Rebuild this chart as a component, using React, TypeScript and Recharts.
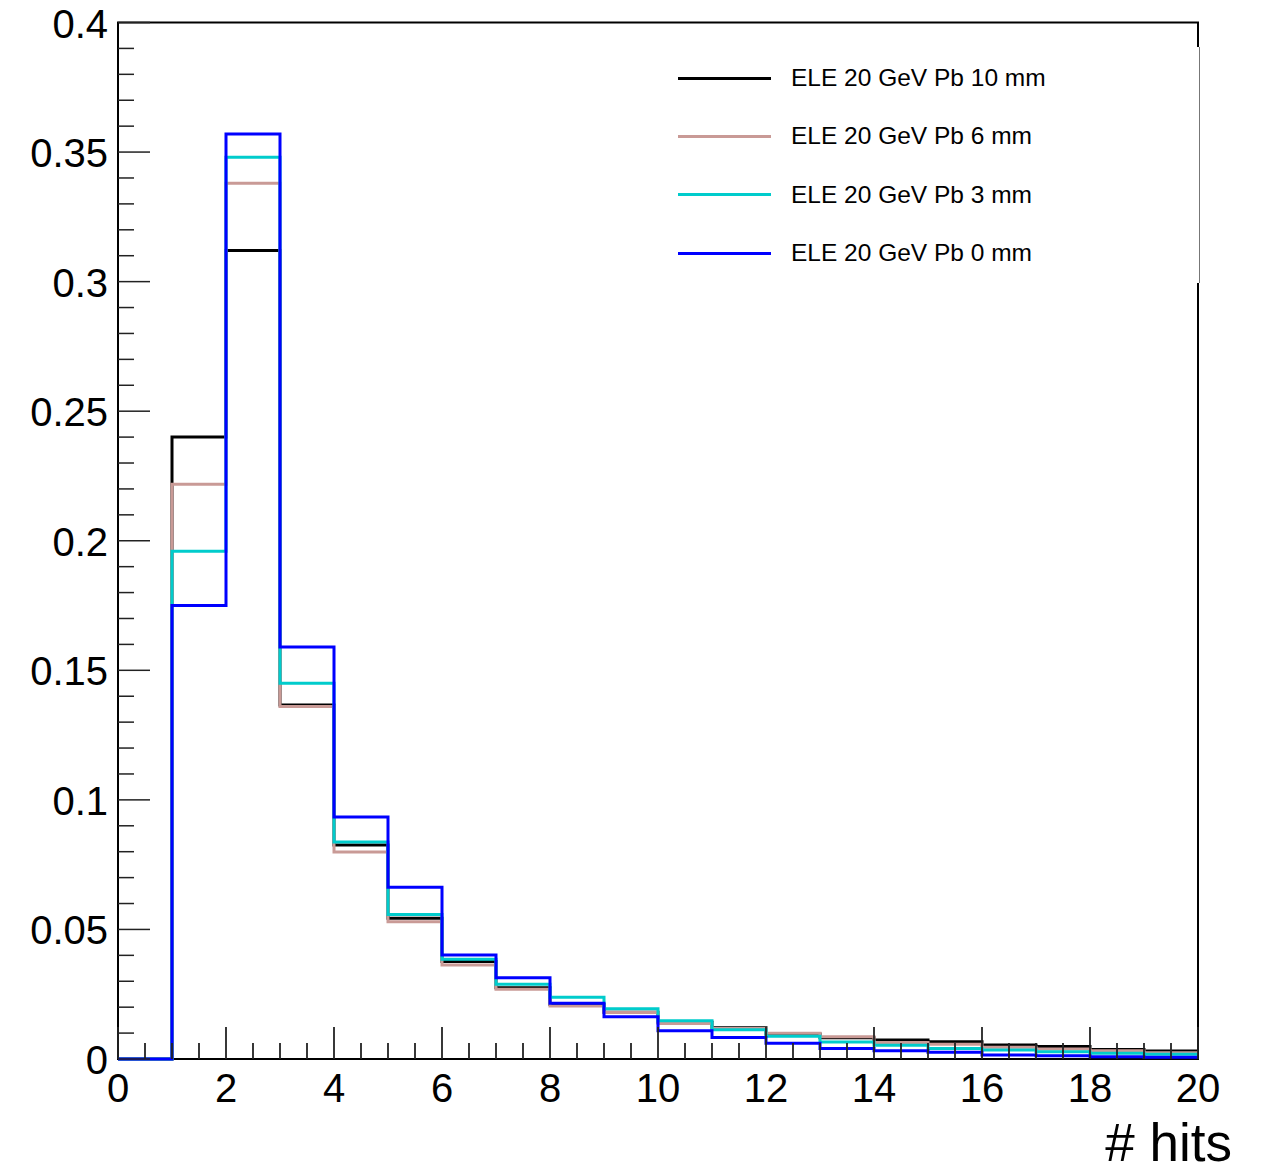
import React from 'react';
import { LineChart, Line, XAxis, YAxis, ReferenceArea, Legend } from 'recharts';

// bin edges 0..20, one value per bin
const binEdges = [0, 1, 2, 3, 4, 5, 6, 7, 8, 9, 10, 11, 12, 13, 14, 15, 16, 17, 18, 19, 20];

const pb10mm = [0, 0.240, 0.312, 0.1366, 0.0826, 0.0543, 0.0376, 0.0275, 0.0210, 0.0180, 0.0142, 0.0121, 0.0096, 0.0082, 0.0073, 0.0067, 0.0054, 0.0048, 0.0037, 0.0031];
const pb6mm = [0, 0.2218, 0.338, 0.136, 0.0799, 0.0530, 0.0363, 0.0269, 0.0205, 0.0179, 0.0137, 0.0118, 0.0099, 0.0086, 0.0064, 0.0057, 0.0045, 0.0039, 0.0032, 0.0024];
const pb3mm = [0, 0.1959, 0.348, 0.145, 0.0837, 0.0558, 0.0385, 0.0288, 0.0238, 0.0194, 0.0148, 0.0113, 0.0088, 0.0066, 0.0053, 0.0041, 0.0035, 0.0028, 0.0022, 0.0018];
const pb0mm = [0, 0.1750, 0.357, 0.159, 0.0934, 0.0663, 0.0401, 0.0314, 0.0215, 0.0163, 0.0109, 0.0083, 0.0061, 0.0041, 0.0032, 0.0026, 0.0015, 0.0013, 0.0009, 0.0007];

const series = [
  { key: 'pb10', name: 'ELE 20 GeV Pb 10 mm', color: '#000000', values: pb10mm },
  { key: 'pb6', name: 'ELE 20 GeV Pb 6 mm', color: '#c99a96', values: pb6mm },
  { key: 'pb3', name: 'ELE 20 GeV Pb 3 mm', color: '#00cccc', values: pb3mm },
  { key: 'pb0', name: 'ELE 20 GeV Pb 0 mm', color: '#0000ff', values: pb0mm },
];

const xMajorTicks = [0, 2, 4, 6, 8, 10, 12, 14, 16, 18, 20];
const yMajorTicks = [0, 0.05, 0.1, 0.15, 0.2, 0.25, 0.3, 0.35, 0.4];

// minor ticks: every 0.5 on x, every 0.01 on y
const xTicks: number[] = [];
for (let i = 0; i <= 40; i++) xTicks.push(i / 2);
const yTicks: number[] = [];
for (let i = 0; i <= 40; i++) yTicks.push(i / 100);

// histogram step data: last edge repeats the last bin so the step closes at 20
const data = binEdges.map((x, i) => {
  const row: any = { x };
  series.forEach((s) => {
    row[s.key] = s.values[Math.min(i, s.values.length - 1)];
  });
  return row;
});

const FONT = '"Liberation Sans", Arial, Helvetica, sans-serif';

const isMajor = (v: number, list: number[]) => list.some((m) => Math.abs(m - v) < 1e-9);

const XTick = (props: any) => {
  const { x, y, payload } = props;
  const major = isMajor(payload.value, xMajorTicks);
  return (
    <g>
      <line x1={x} y1={y} x2={x} y2={y - (major ? 32 : 16)} stroke="#222" strokeWidth={1.8} />
      {major && (
        <text x={x} y={y + 43} textAnchor="middle" fontSize={40} fontFamily={FONT} fill="#000">
          {payload.value}
        </text>
      )}
    </g>
  );
};

const YTick = (props: any) => {
  const { x, y, payload } = props;
  const major = isMajor(payload.value, yMajorTicks);
  return (
    <g>
      <line x1={x} y1={y} x2={x + (major ? 32 : 16)} y2={y} stroke="#222" strokeWidth={1.5} />
      {major && (
        <text x={x - 10} y={y + 15} textAnchor="end" fontSize={40} fontFamily={FONT} fill="#000">
          {String(payload.value)}
        </text>
      )}
    </g>
  );
};

const LegendBox = () => (
  <div
    style={{
      background: '#fff',
      width: '100%',
      height: '100%',
      boxSizing: 'border-box',
      borderRight: '1px solid #777',
      paddingTop: 2,
      fontFamily: FONT,
    }}
  >
    {series.map((s) => (
      <div key={s.key} style={{ display: 'flex', alignItems: 'center', height: 58.3 }}>
        <div style={{ marginLeft: 18, width: 93, height: 3, background: s.color }} />
        <span style={{ marginLeft: 20, fontSize: 24.5, color: '#000' }}>{s.name}</span>
      </div>
    ))}
  </div>
);

export default function App() {
  return (
    <div style={{ position: 'absolute', left: 0, top: 0, width: 1267, height: 1172, background: '#fff' }}>
      <LineChart
        width={1267}
        height={1172}
        data={data}
        margin={{ top: 22.5, right: 69, left: 58, bottom: 73 }}
      >
        <XAxis
          dataKey="x"
          type="number"
          domain={[0, 20]}
          ticks={xTicks}
          interval={0}
          height={40}
          tickSize={0}
          tickMargin={0}
          tickLine={false}
          axisLine={false}
          tick={<XTick />}
          label={{
            value: '# hits',
            content: (p: any) => {
              const vb = p.viewBox;
              return (
                <text
                  x={vb.x + vb.width + 34}
                  y={vb.y + 102}
                  textAnchor="end"
                  fontSize={53}
                  fontFamily={FONT}
                  fill="#000"
                >
                  # hits
                </text>
              );
            },
          }}
        />
        <YAxis
          type="number"
          domain={[0, 0.4]}
          ticks={yTicks}
          interval={0}
          width={60}
          tickSize={0}
          tickMargin={0}
          tickLine={false}
          axisLine={false}
          tick={<YTick />}
        />
        {series.map((s) => (
          <Line
            key={s.key}
            dataKey={s.key}
            name={s.name}
            type="stepAfter"
            stroke={s.color}
            strokeWidth={3}
            dot={false}
            activeDot={false}
            isAnimationActive={false}
          />
        ))}
        <ReferenceArea x1={0} x2={20} y1={0} y2={0.4} fill="none" stroke="#000" strokeWidth={2} />
        <Legend
          layout="vertical"
          align="center"
          verticalAlign="middle"
          content={<LegendBox />}
          wrapperStyle={{ position: 'absolute', left: 660, top: 47, width: 540, height: 236 }}
        />
      </LineChart>
    </div>
  );
}
